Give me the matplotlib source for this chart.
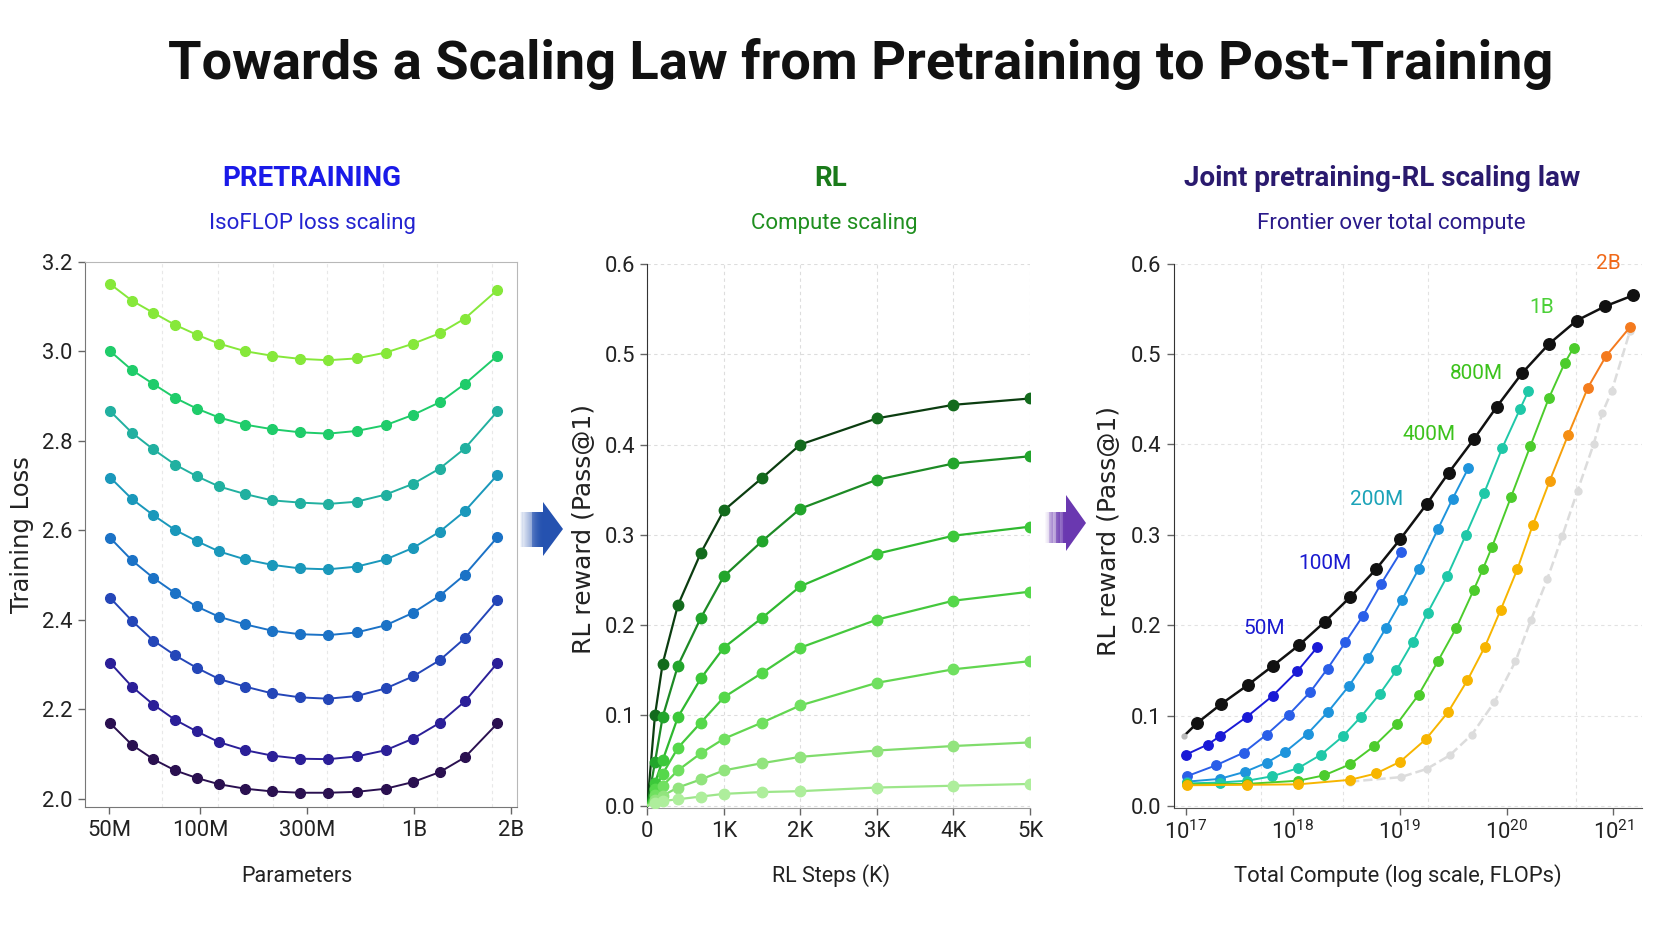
import numpy as np
import matplotlib
matplotlib.use('Agg')
import matplotlib.pyplot as plt
from matplotlib.patches import Polygon, Rectangle
from matplotlib.ticker import FixedLocator

FONT = 'Roboto'

# === data: pretraining isoFLOP curves ===
param_labels = ['50M', '100M', '300M', '1B', '2B']
param_ticks = [0, 0.907, 1.972, 3.03, 4.0]
param_pos = [0.01, 0.226, 0.438, 0.654, 0.870, 1.092, 1.353, 1.619,
             1.898, 2.178, 2.461, 2.75, 3.023, 3.287, 3.537, 3.862]
loss_curves = [
    [3.150, 3.113, 3.086, 3.059, 3.037, 3.017, 3.000, 2.990, 2.983, 2.980, 2.984, 2.997, 3.017, 3.040, 3.073, 3.137],
    [3.000, 2.958, 2.927, 2.896, 2.872, 2.852, 2.836, 2.826, 2.819, 2.816, 2.822, 2.835, 2.858, 2.886, 2.927, 2.990],
    [2.866, 2.818, 2.781, 2.747, 2.721, 2.698, 2.681, 2.667, 2.662, 2.659, 2.664, 2.680, 2.704, 2.738, 2.783, 2.866],
    [2.718, 2.670, 2.634, 2.601, 2.576, 2.553, 2.535, 2.523, 2.515, 2.513, 2.519, 2.535, 2.561, 2.597, 2.643, 2.724],
    [2.583, 2.533, 2.494, 2.460, 2.430, 2.407, 2.390, 2.376, 2.368, 2.366, 2.372, 2.388, 2.416, 2.454, 2.501, 2.585],
    [2.449, 2.398, 2.354, 2.321, 2.293, 2.268, 2.251, 2.236, 2.227, 2.224, 2.230, 2.247, 2.274, 2.310, 2.359, 2.444],
    [2.304, 2.251, 2.211, 2.177, 2.151, 2.127, 2.109, 2.097, 2.090, 2.089, 2.095, 2.109, 2.135, 2.170, 2.218, 2.304],
    [2.169, 2.121, 2.089, 2.064, 2.047, 2.033, 2.023, 2.017, 2.014, 2.014, 2.016, 2.023, 2.038, 2.060, 2.093, 2.169],
]
loss_colors = ['#86e83a', '#1fcc6a', '#21b0a0', '#1a98bb', '#1b72c6', '#2446b8', '#2b1f98', '#2a1050']

# === data: RL compute scaling ===
rl_steps = [0, 100, 200, 400, 700, 1000, 1500, 2000, 3000, 4000, 5000]
rl_curves = [
    [0, 0.100, 0.157, 0.222, 0.280, 0.327, 0.363, 0.400, 0.429, 0.444, 0.451],
    [0, 0.048, 0.098, 0.155, 0.208, 0.254, 0.293, 0.329, 0.361, 0.379, 0.387],
    [0, 0.025, 0.050, 0.098, 0.141, 0.175, 0.208, 0.243, 0.279, 0.299, 0.309],
    [0, 0.018, 0.035, 0.064, 0.092, 0.120, 0.147, 0.175, 0.206, 0.227, 0.237],
    [0, 0.012, 0.022, 0.039, 0.058, 0.074, 0.092, 0.111, 0.136, 0.151, 0.160],
    [0, 0.006, 0.011, 0.020, 0.029, 0.039, 0.047, 0.054, 0.061, 0.066, 0.070],
    [0, 0.003, 0.005, 0.007, 0.010, 0.013, 0.015, 0.016, 0.020, 0.022, 0.024],
]
rl_line_colors = ['#0b3d10', '#1d8a25', '#2fb830', '#45c83d', '#62d650', '#80dc6c', '#9de68a']
rl_mark_colors = ['#136b1d', '#22a52c', '#3cc83a', '#55d84a', '#70e060', '#92e47e', '#aeee9c']

# === data: joint scaling (log10 FLOPs, reward) ===
frontier_logc = [16.983, 17.104, 17.329, 17.578, 17.810, 18.056, 18.299, 18.534, 18.777, 19.002,
                 19.251, 19.459, 19.694, 19.909, 20.145, 20.394, 20.654, 20.924, 21.184]
frontier_r = [0.078, 0.092, 0.113, 0.134, 0.155, 0.178, 0.204, 0.231, 0.262, 0.295,
              0.334, 0.369, 0.406, 0.442, 0.479, 0.511, 0.537, 0.553, 0.565]
size_labels = ['50M', '100M', '200M', '400M', '800M', '1B', '2B']
joint_logc = [
    [17.000, 17.201, 17.312, 17.571, 17.810, 18.039, 18.229],
    [17.007, 17.277, 17.537, 17.752, 17.959, 18.160, 18.323, 18.489, 18.652, 18.825, 19.009],
    [17.007, 17.312, 17.554, 17.755, 17.928, 18.136, 18.326, 18.524, 18.704, 18.870, 19.019,
     19.175, 19.355, 19.494, 19.642],
    [17.007, 17.312, 17.571, 17.807, 18.049, 18.264, 18.465, 18.638, 18.811, 18.967, 19.119,
     19.261, 19.442, 19.618, 19.788, 19.958, 20.124, 20.203],
    [17.007, 17.571, 18.049, 18.292, 18.531, 18.756, 18.974, 19.175, 19.355, 19.528, 19.691,
     19.777, 19.864, 20.041, 20.221, 20.394, 20.543, 20.626],
    [17.007, 17.571, 18.049, 18.534, 18.777, 19.002, 19.244, 19.452, 19.632, 19.795, 19.944,
     20.100, 20.245, 20.404, 20.577, 20.761, 20.931, 21.156],
]
joint_r = [
    [0.057, 0.068, 0.077, 0.099, 0.122, 0.149, 0.176],
    [0.033, 0.045, 0.059, 0.079, 0.101, 0.126, 0.152, 0.181, 0.210, 0.246, 0.281],
    [0.027, 0.030, 0.038, 0.048, 0.060, 0.080, 0.104, 0.133, 0.164, 0.197, 0.228,
     0.262, 0.306, 0.340, 0.374],
    [0.025, 0.026, 0.028, 0.033, 0.042, 0.057, 0.077, 0.099, 0.124, 0.150, 0.181,
     0.214, 0.254, 0.300, 0.346, 0.396, 0.439, 0.459],
    [0.024, 0.0245, 0.028, 0.034, 0.046, 0.066, 0.091, 0.123, 0.160, 0.197, 0.239,
     0.262, 0.287, 0.342, 0.398, 0.451, 0.490, 0.507],
    [0.023, 0.0235, 0.024, 0.029, 0.036, 0.049, 0.074, 0.104, 0.139, 0.176, 0.217,
     0.262, 0.311, 0.360, 0.411, 0.463, 0.498, 0.530],
]
ghost_logc = [18.534, 19.009, 19.251, 19.466, 19.674, 19.885, 20.082, 20.228, 20.380,
              20.522, 20.664, 20.816, 20.896, 20.983, 21.156]
ghost_r = [0.027, 0.032, 0.041, 0.056, 0.079, 0.115, 0.160, 0.206, 0.251,
           0.299, 0.349, 0.401, 0.435, 0.459, 0.526]
joint_colors = ['#1a1ad6', '#2a5ee8', '#1e94dc', '#1fc8a8', '#4ccc2c', '#f7b500']

# === figure ===
plt.rcParams['font.family'] = [FONT, 'DejaVu Sans']
plt.rcParams['mathtext.fontset'] = 'custom'
plt.rcParams['mathtext.rm'] = FONT
plt.rcParams['mathtext.it'] = FONT
W, H = 1672, 941
fig = plt.figure(figsize=(W / 100, H / 100), dpi=100, facecolor='white')

def box(l, r, t, b):
    return [l / W, 1 - b / H, (r - l) / W, (b - t) / H]

tick_fs = 15.8
ax1 = fig.add_axes(box(85, 517, 261.7, 807.3))
ax2 = fig.add_axes(box(647.3, 1030, 264, 808.3))
ax3 = fig.add_axes(box(1173.6, 1642, 263.7, 808.3))

# --- panel 1 ---
for ys, c in zip(loss_curves, loss_colors):
    ax1.plot(param_pos, ys, '-', color=c, lw=1.4, marker='o', ms=7,
             mfc=c, mec=c, zorder=3)
ax1.set_xlim(-0.241, 4.056)
ax1.set_ylim(1.9815, 3.2)
ax1.set_xticks(param_ticks)
ax1.set_xticklabels(param_labels)
ax1.set_yticks(np.arange(2.0, 3.21, 0.2))
ax1.set_yticklabels(['%.1f' % v for v in np.arange(2.0, 3.21, 0.2)])
ax1.xaxis.set_minor_locator(FixedLocator([0.523, 1.078, 1.626, 2.167, 2.726, 3.263, 3.811]))
ax1.grid(which='minor', axis='x', color='#e8e8e8', lw=0.8, ls=(0, (3, 3)))
ax1.tick_params(which='minor', length=0)
for s in ['left', 'bottom']:
    ax1.spines[s].set_color('#777777')
for s in ['top', 'right']:
    ax1.spines[s].set_color('#b8b8b8')
ax1.set_ylabel('Training Loss', family='DejaVu Sans', fontsize=17.5, color='#222222')
ax1.yaxis.set_label_coords(-0.118, 0.5)
ax1.set_xlabel('Parameters', fontsize=15.5, color='#222222')
ax1.xaxis.set_label_coords(0.49, -0.107)

# --- panel 2 ---
for ys, lc, mc in zip(rl_curves, rl_line_colors, rl_mark_colors):
    ax2.plot(rl_steps, ys, '-', color=lc, lw=1.6, zorder=3)
    ax2.plot(rl_steps[1:], ys[1:], 'o', color=mc, ms=7.5, zorder=4)
ax2.set_xlim(0, 5000)
ax2.set_ylim(-0.003, 0.6)
ax2.set_xticks([0, 1000, 2000, 3000, 4000, 5000])
ax2.set_xticklabels(['0', '1K', '2K', '3K', '4K', '5K'])
ax2.set_yticks(np.arange(0, 0.61, 0.1))
ax2.set_yticklabels(['%.1f' % v for v in np.arange(0, 0.61, 0.1)])
ax2.grid(color='#dddddd', lw=0.8, ls=(0, (3, 3)))
ax2.spines['top'].set_visible(False)
ax2.spines['right'].set_visible(False)
ax2.spines['left'].set_color('#333333')
ax2.spines['bottom'].set_color('#999999')
ax2.set_ylabel('RL reward (Pass@1)', family='DejaVu Sans', fontsize=18, color='#222222')
ax2.yaxis.set_label_coords(-0.135, 0.513)
ax2.set_xlabel('RL Steps (K)', fontsize=15.5, color='#222222')
ax2.xaxis.set_label_coords(0.48, -0.102)

# --- panel 3 ---
ax3.set_xscale('log')
ax3.plot(10 ** np.array(ghost_logc), ghost_r, '--', color='#dcdcdc', lw=1.8,
         marker='o', ms=5, mfc='#dcdcdc', mec='#dcdcdc', zorder=2)
gold = np.array(matplotlib.colors.to_rgb('#f7b500'))
orange = np.array(matplotlib.colors.to_rgb('#f47a1e'))
for i, (lx, rr, c) in enumerate(zip(joint_logc, joint_r, joint_colors)):
    cx = 10 ** np.array(lx)
    if i < 5:
        ax3.plot(cx, rr, '-', color=c, lw=1.4, marker='o', ms=6.8, zorder=3)
    else:
        # gold run turning orange at the top
        for j in range(len(cx)):
            t = np.clip((rr[j] - 0.30) / 0.17, 0, 1)
            col = gold * (1 - t) + orange * t
            if j < len(cx) - 1:
                ax3.plot(cx[j:j + 2], rr[j:j + 2], '-', color=col, lw=1.4, zorder=3)
            ax3.plot(cx[j], rr[j], 'o', color=col, ms=6.8, zorder=4)
fx = 10 ** np.array(frontier_logc)
ax3.plot(fx, frontier_r, '-', color='#111111', lw=1.8, zorder=5)
ax3.plot(fx[1:], frontier_r[1:], 'o', color='#111111', ms=8.3, zorder=6)
ax3.plot(fx[0], frontier_r[0], 'o', color='#bbbbbb', ms=3.5, zorder=6)

label_pos = [(17.73, 0.196), (18.30, 0.268), (18.78, 0.339), (19.27, 0.411),
             (19.72, 0.478), (20.33, 0.552), (20.95, 0.600)]
label_cols = ['#1a1ad0', '#1a1ad0', '#1ba3b8', '#3cc21c', '#3cc21c', '#4cd038', '#f06a1a']
for lab, (lx, ly), c in zip(size_labels, label_pos, label_cols):
    ax3.text(10 ** lx, ly, lab, color=c, fontsize=15, ha='center', va='center')

ax3.set_xlim(10 ** 16.882, 10 ** 21.267)
ax3.set_ylim(-0.0025, 0.6)
ax3.set_xticks([1e17, 1e18, 1e19, 1e20, 1e21])
ax3.set_xticklabels([r'$10^{17}$', r'$10^{18}$', r'$10^{19}$', r'$10^{20}$', r'$10^{21}$'])
ax3.xaxis.set_minor_locator(FixedLocator([10 ** 17.7, 10 ** 18.47, 10 ** 19.26, 10 ** 20.0, 10 ** 20.65]))
ax3.tick_params(which='minor', length=0)
ax3.set_yticks(np.arange(0, 0.61, 0.1))
ax3.set_yticklabels(['%.1f' % v for v in np.arange(0, 0.61, 0.1)])
ax3.grid(which='minor', axis='x', color='#e2e2e2', lw=0.8, ls=(0, (3, 3)))
ax3.grid(which='major', axis='y', color='#e2e2e2', lw=0.8, ls=(0, (3, 3)))
ax3.spines['top'].set_visible(False)
ax3.spines['right'].set_visible(False)
ax3.spines['left'].set_color('#333333')
ax3.spines['bottom'].set_color('#555555')
ax3.set_ylabel('RL reward (Pass@1)', family='DejaVu Sans', fontsize=18, color='#222222')
ax3.yaxis.set_label_coords(-0.112, 0.51)
ax3.set_xlabel('Total Compute (log scale, FLOPs)', fontsize=15.8, color='#222222')
ax3.xaxis.set_label_coords(0.479, -0.102)

for ax in (ax1, ax2, ax3):
    ax.tick_params(which='major', labelsize=tick_fs, length=5, width=1, color='#666666',
                   labelcolor='#222222', pad=4)
    ax.set_facecolor('white')

# === titles ===
fig.text(861 / W, 1 - 64 / H, 'Towards a Scaling Law from Pretraining to Post-Training',
         fontsize=39, weight='bold', ha='center', va='center', color='#111111')
heads = [(312, 'PRETRAINING', '#1a1ae8', 312, 'IsoFLOP loss scaling', '#2323d0'),
         (830.6, 'RL', '#1a7a1a', 834, 'Compute scaling', '#1f8f1f'),
         (1382, 'Joint pretraining-RL scaling law', '#2a1a6e', 1391.5, 'Frontier over total compute', '#2a1a8a')]
for x1, t1, c1, x2, t2, c2 in heads:
    fig.text(x1 / W, 1 - 179 / H, t1, fontsize=20, weight='bold', color=c1,
             ha='center', va='center')
    fig.text(x2 / W, 1 - 224 / H, t2, fontsize=16, color=c2, ha='center', va='center')

# === arrows between panels (gradient tail + head) ===
def arrow(tail_x0, head_x0, tip_x, tail_t, tail_b, head_t, head_b, tip_y, color):
    n = 24
    step = (head_x0 - tail_x0) / n
    for k in range(n):
        x = tail_x0 + k * step
        fig.patches.append(Rectangle((x / W, 1 - tail_b / H), (step + 0.6) / W,
                                     (tail_b - tail_t) / H, transform=fig.transFigure,
                                     color=color, alpha=(k + 1) / n * 0.95, lw=0))
    pts = [(head_x0, head_t), (tip_x, tip_y), (head_x0, head_b)]
    fig.patches.append(Polygon([(x / W, 1 - y / H) for x, y in pts], closed=True,
                               transform=fig.transFigure, color=color, lw=0))

arrow(520, 543, 563, 512, 547, 502, 556, 529, '#2552b0')
arrow(1045, 1066, 1086, 512, 543, 495, 551, 523, '#6a38b0')

fig.savefig('out.png', dpi=100, facecolor='white')
